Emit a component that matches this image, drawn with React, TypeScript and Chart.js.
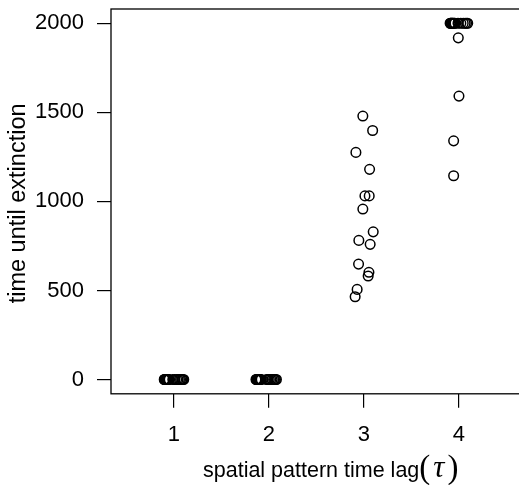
import React, { useEffect, useRef } from "react";
import { Chart, registerables } from "chart.js";

Chart.register(...registerables);

// ---- data ----
const xTickValues = [1, 2, 3, 4];
const yTickValues = [0, 500, 1000, 1500, 2000];

// lag 1: all extinct immediately (jittered x)
const lag1X = [0.9, 0.903, 0.907, 0.911, 0.915, 0.92, 0.924, 0.93, 0.936, 0.944, 0.952, 0.99, 1.01, 1.03, 1.045, 1.06, 1.072, 1.085, 1.095, 1.105];
const lag1Y = [0, 0, 0, 0, 0, 0, 0, 0, 0, 0, 0, 0, 0, 0, 0, 0, 0, 0, 0, 0];

// lag 2
const lag2X = [1.865, 1.87, 1.874, 1.879, 1.884, 1.889, 1.894, 1.9, 1.906, 1.912, 1.92, 1.975, 1.99, 2.005, 2.02, 2.035, 2.05, 2.06, 2.07, 2.08];
const lag2Y = [0, 0, 0, 0, 0, 0, 0, 0, 0, 0, 0, 0, 0, 0, 0, 0, 0, 0, 0, 0];

// lag 3
const lag3X = [2.989, 3.092, 2.916, 3.06, 3.011, 3.056, 2.989, 3.098, 2.947, 3.066, 2.944, 3.053, 3.045, 2.929, 2.908];
const lag3Y = [1479, 1398, 1275, 1180, 1031, 1031, 957, 829, 781, 759, 648, 602, 581, 506, 465];

// lag 4
const lag4X = [3.907, 3.912, 3.917, 3.922, 3.927, 3.932, 3.937, 3.943, 3.95, 3.958, 3.99, 4.02, 4.045, 4.065, 4.08, 4.092, 3.993, 4.0, 3.944, 3.944];
const lag4Y = [2000, 2000, 2000, 2000, 2000, 2000, 2000, 2000, 2000, 2000, 2000, 2000, 2000, 2000, 2000, 2000, 1918, 1591, 1340, 1144];

const xLabel = "spatial pattern time lag";
const xLabelSymbol = "τ";
const yLabel = "time until extinction";

const FONT = "'Liberation Sans', Arial, Helvetica, sans-serif";
const CANVAS_W = 540;
const CANVAS_H = 485;

function toPoints(xs: number[], ys: number[]) {
  return xs.map((x, i) => ({ x, y: ys[i] }));
}

const frameAndTitles = {
  id: "frameAndTitles",
  afterDraw(chart: any) {
    const { ctx, chartArea } = chart;
    ctx.save();
    ctx.strokeStyle = "#000";
    ctx.lineWidth = 1.3;
    ctx.strokeRect(chartArea.left, chartArea.top, chartArea.right - chartArea.left, chartArea.bottom - chartArea.top);

    ctx.fillStyle = "#000";
    // y title
    ctx.save();
    ctx.translate(25, (chartArea.top + chartArea.bottom) / 2 + 2);
    ctx.rotate(-Math.PI / 2);
    ctx.font = `23.5px ${FONT}`;
    ctx.textAlign = "center";
    ctx.textBaseline = "alphabetic";
    ctx.fillText(yLabel, 0, 0);
    ctx.restore();

    // x title
    const baseY = 477;
    ctx.font = `21.5px ${FONT}`;
    ctx.textAlign = "left";
    ctx.textBaseline = "alphabetic";
    const mainW = ctx.measureText(xLabel).width;
    ctx.font = `33px 'Liberation Serif', serif`;
    const parW = ctx.measureText("(").width;
    ctx.font = `italic 31px 'Liberation Serif', serif`;
    const tauW = ctx.measureText(xLabelSymbol).width;
    let x = 203;
    ctx.font = `21.5px ${FONT}`;
    ctx.fillText(xLabel, x, baseY);
    x += mainW;
    ctx.font = `33px 'Liberation Serif', serif`;
    ctx.fillText("(", x, baseY + 1);
    x += parW + 3;
    ctx.font = `italic 31px 'Liberation Serif', serif`;
    ctx.fillText(xLabelSymbol, x, baseY);
    x += tauW + 3;
    ctx.font = `33px 'Liberation Serif', serif`;
    ctx.fillText(")", x, baseY + 1);
    ctx.restore();
  },
};

export default function App() {
  const ref = useRef<HTMLCanvasElement | null>(null);
  useEffect(() => {
    if (!ref.current) return;
    const pointStyle = {
      pointRadius: 4.8,
      pointBorderWidth: 1.5,
      pointBorderColor: "#000",
      pointBackgroundColor: "rgba(0,0,0,0)",
      showLine: false,
    };
    const chart = new Chart(ref.current, {
      type: "scatter",
      data: {
        datasets: [
          { data: toPoints(lag1X, lag1Y), ...pointStyle },
          { data: toPoints(lag2X, lag2Y), ...pointStyle },
          { data: toPoints(lag3X, lag3Y), ...pointStyle },
          { data: toPoints(lag4X, lag4Y), ...pointStyle },
        ],
      },
      options: {
        animation: false,
        responsive: false,
        devicePixelRatio: 1,
        layout: { padding: { left: 0, top: 9, right: CANVAS_W - 521.7, bottom: 0 } },
        plugins: { legend: { display: false }, tooltip: { enabled: false } },
        scales: {
          x: {
            type: "linear",
            min: 0.34,
            max: 4.66,
            afterBuildTicks: (s: any) => {
              s.ticks = xTickValues.map((v) => ({ value: v }));
            },
            afterFit: (s: any) => {
              s.height = CANVAS_H - 393.8;
              s.paddingLeft = 0;
              s.paddingRight = 0;
            },
            grid: { drawOnChartArea: false, drawTicks: true, tickLength: 14, color: "#000", lineWidth: 1.2 },
            border: { display: false },
            ticks: {
              color: "#000",
              font: { family: FONT, size: 22 },
              padding: 14,
              maxRotation: 0,
              autoSkip: false,
              callback: (v: any) => String(v),
            },
          },
          y: {
            type: "linear",
            min: -80,
            max: 2080,
            afterBuildTicks: (s: any) => {
              s.ticks = yTickValues.map((v) => ({ value: v }));
            },
            afterFit: (s: any) => {
              s.width = 111;
              s.paddingTop = 0;
              s.paddingBottom = 0;
            },
            grid: { drawOnChartArea: false, drawTicks: true, tickLength: 14, color: "#000", lineWidth: 1.2 },
            border: { display: false },
            ticks: {
              color: "#000",
              font: { family: FONT, size: 22 },
              padding: 13,
              autoSkip: false,
              callback: (v: any) => String(v),
            },
          },
        },
      },
      plugins: [frameAndTitles],
    } as any);
    return () => chart.destroy();
  }, []);
  return (
    <div style={{ position: "fixed", left: 0, top: 0, width: 519, height: 485, overflow: "hidden", background: "#fff" }}>
      <canvas ref={ref} width={CANVAS_W} height={CANVAS_H} style={{ width: CANVAS_W, height: CANVAS_H, display: "block" }} />
    </div>
  );
}
